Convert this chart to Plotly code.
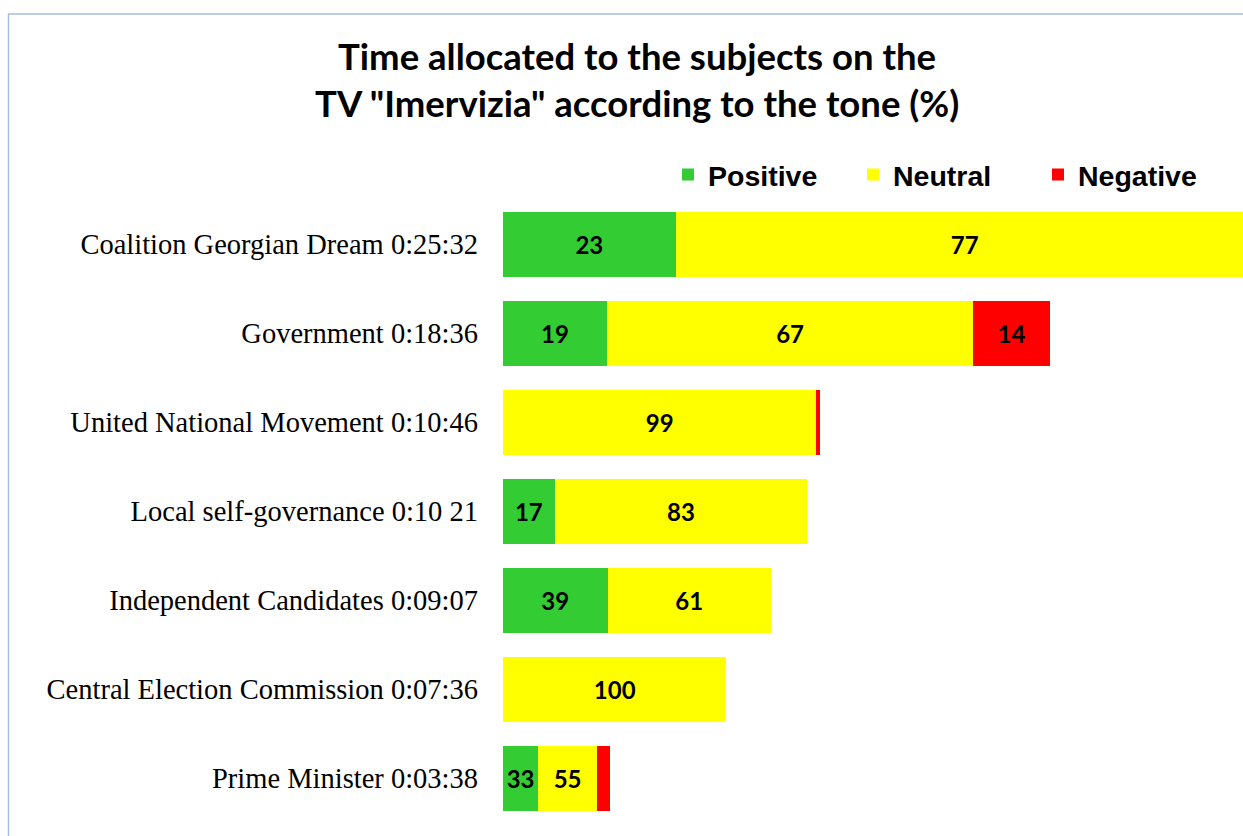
import plotly.graph_objects as go

subjects = [
    "Coalition Georgian Dream 0:25:32",
    "Government 0:18:36",
    "United National Movement 0:10:46",
    "Local self-governance 0:10 21",
    "Independent Candidates 0:09:07",
    "Central Election Commission 0:07:36",
    "Prime Minister 0:03:38",
]
seconds = [1532, 1116, 646, 621, 547, 456, 218]
positive = [23, 19, 0, 17, 39, 0, 33]
neutral = [77, 67, 99, 83, 61, 100, 55]
negative = [0, 14, 1, 0, 0, 0, 12]

series = [
    ("Positive", positive, "#33CC33"),
    ("Neutral", neutral, "#FFFF00"),
    ("Negative", negative, "#FF0000"),
]

W, H = 1243, 836
L, R_EDGE = 503, 1243
T, B = 200, 836
CAT_PX = 89.0
PX_PER_SEC = 0.49
xmax = (R_EDGE - L) / PX_PER_SEC
ybottom = -0.5 + (B - T) / CAT_PX

fig = go.Figure()
for name, pct, color in series:
    widths = [p * s / 100 for p, s in zip(pct, seconds)]
    labels = [str(p) if w >= 50 else "" for p, w in zip(pct, widths)]
    fig.add_trace(go.Bar(
        name=name, y=subjects, x=widths, orientation="h",
        marker=dict(color=color, line=dict(width=0)),
        text=labels, textposition="inside", insidetextanchor="middle",
        textfont=dict(family="Lato", size=24, color="black", weight="bold"),
        hoverinfo="skip",
    ))

def px_to_paper_x(px):
    return (px - L) / (R_EDGE - L)

def py_to_paper_y(py):
    return (B - py) / (B - T)

fig.update_layout(
    width=W, height=H,
    barmode="stack", bargap=0.28,
    paper_bgcolor="white", plot_bgcolor="white",
    margin=dict(l=L, r=W - R_EDGE, t=T, b=H - B, autoexpand=False),
    showlegend=True,
    legend=dict(
        orientation="h", x=px_to_paper_x(668), xanchor="left",
        y=py_to_paper_y(175), yanchor="middle",
        entrywidth=140, entrywidthmode="pixels",
        font=dict(family="Liberation Sans", size=28.5, color="black", weight="bold"),
        traceorder="normal", bgcolor="rgba(0,0,0,0)",
    ),
    xaxis=dict(range=[0, xmax], visible=False, fixedrange=True),
    yaxis=dict(
        range=[ybottom, -0.5], showgrid=False, showline=False, zeroline=False,
        ticks="", ticklabelstandoff=24, fixedrange=True,
        tickfont=dict(family="Liberation Serif", size=28.5, color="black"),
    ),
    shapes=[
        dict(type="line", xref="paper", yref="paper",
             x0=px_to_paper_x(8.5), x1=px_to_paper_x(8.5),
             y0=py_to_paper_y(14), y1=py_to_paper_y(900),
             line=dict(color="#A6BDDF", width=1.5)),
        dict(type="line", xref="paper", yref="paper",
             x0=px_to_paper_x(8), x1=px_to_paper_x(1300),
             y0=py_to_paper_y(14), y1=py_to_paper_y(14),
             line=dict(color="#A6BDDF", width=1.5)),
    ],
    annotations=[
        dict(text="Time allocated to the subjects on the<br>TV \"Imervizia\" according to the tone (%)",
             xref="paper", yref="paper", x=px_to_paper_x(637), y=py_to_paper_y(79),
             xanchor="center", yanchor="middle", showarrow=False,
             font=dict(family="Lato", size=36.5, color="black", weight="bold")),
    ],
)

fig.write_html(
    "out.html",
    config={"displayModeBar": False},
    post_script="document.body.style.margin='0';document.body.style.overflow='hidden';",
)
